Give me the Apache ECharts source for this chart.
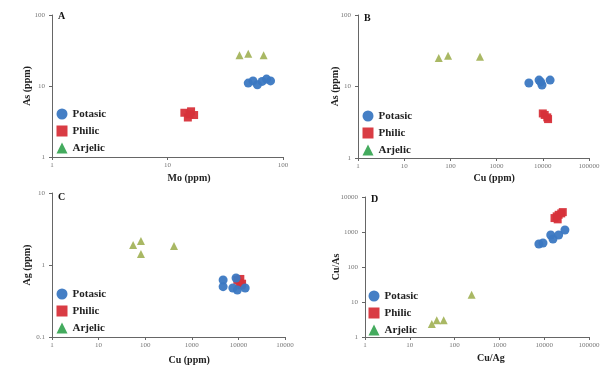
<!DOCTYPE html>
<html><head><meta charset="utf-8">
<script src="https://cdn.jsdelivr.net/npm/echarts@6/dist/echarts.min.js"></script>
<style>html,body{margin:0;padding:0;background:#fff}#c{width:613px;height:365px}</style>
</head><body><div id="c"></div>
<script>
// Panel A: Mo vs As
const potasicA = [[50,11],[55,11.8],[60,10.4],[66,11.6],[72,12.5],[78,11.8]];
const philicA = [[14,4.2],[15,3.6],[16,4.4],[17,3.9],[15.5,4.0]];
const arjelicA = [[42,27],[50,28.5],[68,27]];
// Panel B: Cu vs As
const potasicB = [[5000,11.2],[8300,12.3],[9600,10.5],[9000,11.6],[14400,12.3]];
const philicB = [[10000,4.2],[11000,4.0],[12500,3.7],[13000,3.5]];
const arjelicB = [[56,25],[89,27],[437,26]];
// Panel C: Cu vs Ag
const potasicC = [[4700,0.62],[4700,0.5],[7600,0.48],[8900,0.66],[9500,0.45],[14000,0.48]];
const philicC = [[9500,0.62],[10500,0.57],[11500,0.52],[11000,0.64],[12000,0.55]];
const arjelicC = [[55,1.9],[81,2.15],[81,1.42],[415,1.84]];
// Panel D: Cu/Ag vs Cu/As
const potasicD = [[7600,455],[9400,485],[14000,820],[15700,630],[21000,820],[29000,1140]];
const philicD = [[17000,2500],[19000,2800],[21000,3100],[24000,3400],[26000,3700],[20000,2300]];
const arjelicD = [[31,2.35],[40,3.0],[57,3.0],[240,16]];

const xTicksA = ['1','10','100'];
const yTicksA = ['1','10','100'];
const xTicksB = ['1','10','100','1000','10000','100000'];
const yTicksB = ['1','10','100'];
const xTicksC = ['1','10','100','1000','10000','10000'];
const yTicksC = ['0.1','1','10'];
const xTicksD = ['1','10','100','1000','10000','100000'];
const yTicksD = ['1','10','100','1000','10000'];

const panels = [
  {letter:'A', xName:'Mo (ppm)', yName:'As (ppm)', xMin:1, xMax:100, yMin:1, yMax:100, xT:xTicksA, yT:yTicksA,
   data:[potasicA, philicA, arjelicA], grid:{left:52, top:15, width:231, height:142}, legend:{left:56.5, top:108.5}, lx:58, ly:11, xNameY:178, yNameX:27},
  {letter:'B', xName:'Cu (ppm)', yName:'As (ppm)', xMin:1, xMax:100000, yMin:1, yMax:100, xT:xTicksB, yT:yTicksB,
   data:[potasicB, philicB, arjelicB], grid:{left:358, top:15, width:231, height:143}, legend:{left:362.5, top:110.5}, lx:364, ly:13, xNameY:178, yNameX:335},
  {letter:'C', xName:'Cu (ppm)', yName:'Ag (ppm)', xMin:1, xMax:100000, yMin:0.1, yMax:10, xT:xTicksC, yT:yTicksC,
   data:[potasicC, philicC, arjelicC], grid:{left:52, top:193, width:233, height:144}, legend:{left:56.5, top:288.5}, lx:58, ly:192, xNameY:360, yNameX:27},
  {letter:'D', xName:'Cu/Ag', yName:'Cu/As', xMin:1, xMax:100000, yMin:1, yMax:10000, xT:xTicksD, yT:yTicksD,
   data:[potasicD, philicD, arjelicD], grid:{left:365, top:197, width:224, height:140}, legend:{left:368.5, top:290.5}, lx:371, ly:194, xNameY:358, yNameX:336}
];

const names = ['Potasic','Philic','Arjelic'];
const colors = ['#3b78c2','#d7323a','#a4b45c'];
const symbols = ['circle','rect','triangle'];
const sizes = [9,8,8];
const legendColors = ['#3b78c2','#d7323a','#3aa655'];
const serif = '"Liberation Serif", "Times New Roman", serif';

function tickFmt(arr){
  return function(v){
    const e = Math.round(Math.log10(v));
    const base = Math.round(Math.log10(arr === yTicksC ? 0.1 : 1));
    const idx = e - base;
    return arr[idx] !== undefined ? arr[idx] : '';
  };
}

const option = {grid:[], xAxis:[], yAxis:[], series:[], legend:[], graphic:[]};
panels.forEach((p,i)=>{
  option.grid.push(Object.assign({containLabel:false}, p.grid));
  const axisCommon = {
    type:'log', logBase:10,
    axisLine:{show:true, lineStyle:{color:'#666', width:1}},
    axisTick:{show:true, length:3, inside:false, lineStyle:{color:'#666'}},
    splitLine:{show:false}, minorTick:{show:false},
    axisLabel:{fontSize:7, color:'#777', fontFamily:serif}
  };
  option.xAxis.push(Object.assign({}, axisCommon, {gridIndex:i, min:p.xMin, max:p.xMax,
    axisLabel:Object.assign({}, axisCommon.axisLabel, {margin:5, formatter:tickFmt(p.xT)})}));
  option.yAxis.push(Object.assign({}, axisCommon, {gridIndex:i, min:p.yMin, max:p.yMax,
    axisLabel:Object.assign({}, axisCommon.axisLabel, {margin:7, formatter:tickFmt(p.yT)})}));
  p.data.forEach((d,k)=>{
    option.series.push({type:'scatter', name:names[k], xAxisIndex:i, yAxisIndex:i, data:d,
      symbol:symbols[k], symbolSize:sizes[k], itemStyle:{color:colors[k], opacity:0.95}, z:3-k});
  });
  option.legend.push({orient:'vertical', left:p.legend.left, top:p.legend.top, padding:0, itemGap:6, itemWidth:11, itemHeight:11,
    textStyle:{fontFamily:serif, fontWeight:'bold', fontSize:11, color:'#222'},
    data:names.map((n,k)=>({name:n, icon:symbols[k], itemStyle:{color:legendColors[k]}})),
    selectedMode:false});
  option.graphic.push({type:'text', left:p.lx, top:p.ly, style:{text:p.letter, font:'bold 10px '+serif, fill:'#111'}});
  option.graphic.push({type:'text', left:p.grid.left + p.grid.width/2, top:p.xNameY-5,
    style:{text:p.xName, font:'bold 10px '+serif, fill:'#222', textAlign:'center'}});
  option.graphic.push({type:'text', x:p.yNameX, y:p.grid.top + p.grid.height/2, rotation:Math.PI/2,
    style:{text:p.yName, font:'bold 10px '+serif, fill:'#222', textAlign:'center', textVerticalAlign:'middle'}});
});
const chart = echarts.init(document.getElementById('c'), null, {renderer:'canvas'});
chart.setOption(option);
</script></body></html>
